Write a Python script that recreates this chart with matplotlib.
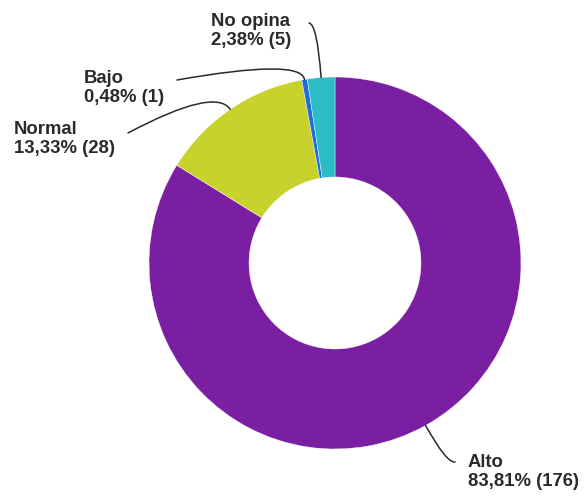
import matplotlib.pyplot as plt
import numpy as np

plt.rcParams["font.family"] = ["Liberation Sans", "DejaVu Sans"]

# Survey answers, clockwise from 12 o'clock
categories = ["Alto", "Normal", "Bajo", "No opina"]
counts = [176, 28, 1, 5]
percents = ["83,81%", "13,33%", "0,48%", "2,38%"]
colors = ["#7b1fa2", "#c8d22c", "#1e6fd9", "#2cbcc6"]

W, H = 587, 497
fig = plt.figure(figsize=(W / 100, H / 100), dpi=100)
ax = fig.add_axes([0, 0, 1, 1])

cx, cy, radius = 335, H - 263, 186
wedges, _ = ax.pie(
    counts,
    colors=colors,
    startangle=90,
    counterclock=False,
    center=(cx, cy),
    radius=radius,
    wedgeprops=dict(width=radius - 86, edgecolor="white", linewidth=0.3),
    frame=True,
)
ax.set_xlim(0, W)
ax.set_ylim(0, H)
ax.set_aspect("equal")
ax.axis("off")

# label block position (left, top in px), leader start (px), text-side angle
label_pos = {
    "Alto": ((468, 454), (455, 462), 10),
    "Normal": ((14, 121), (128, 133), 28),
    "Bajo": ((84, 70), (177, 80), 10),
    "No opina": ((211, 13), (309, 23), -5),
}

for w, name, n, pct in zip(wedges, categories, counts, percents):
    mid = np.deg2rad((w.theta1 + w.theta2) / 2)
    anchor = (cx + radius * np.cos(mid), cy + radius * np.sin(mid))
    (tx, ty), (sx, sy), ang = label_pos[name]
    ax.text(tx, H - ty, f"{name}\n{pct} ({n})", ha="left", va="top",
            fontsize=13.3, fontweight="bold", color="#2a2a2a", linespacing=1.15)
    ax.annotate(
        "", xy=anchor, xytext=(sx, H - sy),
        arrowprops=dict(arrowstyle="-", color="#2a2a2a", lw=1.1,
                        shrinkA=0, shrinkB=0,
                        connectionstyle=f"angle3,angleA={ang},angleB={np.rad2deg(mid)}"),
    )

fig.savefig("out.png", dpi=100, facecolor="white")
